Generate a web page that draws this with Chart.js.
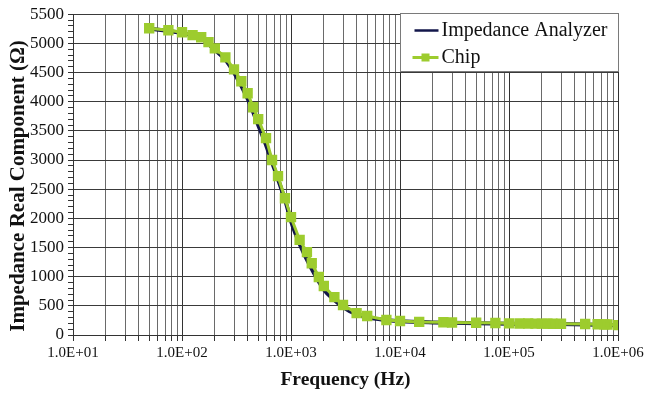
<!DOCTYPE html>
<html>
<head>
<meta charset="utf-8">
<script src="https://cdn.jsdelivr.net/npm/chart.js@4.4.1/dist/chart.umd.min.js"></script>
<style>
html,body{margin:0;padding:0;background:#fff;}
#wrap{width:647px;height:394px;position:relative;}
</style>
</head>
<body>
<div id="wrap"><canvas id="c" width="647" height="394"></canvas></div>
<script>
// Chip measurement (frequency Hz, real impedance Ohm)
const chipFreq = [50, 75, 100, 125, 150, 175, 200, 250, 300, 350, 400, 450, 500, 590, 670, 760, 880, 1000, 1200, 1400, 1550, 1800, 2000, 2500, 3000, 4000, 5000, 7500, 10000, 15000, 25000, 30000, 50000, 75000, 100000, 125000, 150000, 175000, 200000, 225000, 250000, 300000, 500000, 650000, 750000, 800000, 1000000];
const chipReal = [5260, 5225, 5190, 5140, 5105, 5020, 4915, 4760, 4555, 4350, 4145, 3905, 3700, 3375, 3000, 2725, 2345, 2020, 1630, 1420, 1230, 995, 840, 650, 515, 375, 325, 257, 240, 225, 218, 215, 210, 205, 200, 198, 197, 196, 195, 194, 193, 192, 188, 185, 183, 180, 170];
// Impedance analyzer reference (frequency Hz, real impedance Ohm)
const anaFreq = [50, 70, 100, 150, 200, 250, 300, 400, 500, 600, 700, 800, 900, 1000, 1200, 1500, 2000, 2500, 3000, 4000, 5000, 7000, 10000, 20000, 50000, 100000, 200000, 500000, 700000, 1000000];
const anaReal = [5250, 5220, 5175, 5085, 4890, 4720, 4500, 4050, 3600, 3220, 2860, 2550, 2260, 1950, 1560, 1180, 780, 600, 480, 352, 302, 260, 236, 216, 203, 195, 189, 182, 174, 166];
// Axis tick labels
const xTickLabels = {10: '1.0E+01', 100: '1.0E+02', 1000: '1.0E+03', 10000: '1.0E+04', 100000: '1.0E+05', 1000000: '1.0E+06'};
const yLabelStep = 500;
const yMinorStep = 100;
const yTitle = 'Impedance Real Component (Ω)';
const xTitle = 'Frequency (Hz)';

const xTickValues = [];
for (let d = 10; d < 1000000; d *= 10) {
  for (let m = 1; m < 10; m++) xTickValues.push(d * m);
}
xTickValues.push(1000000);

const isDecade = v => Math.abs(Math.log10(v) - Math.round(Math.log10(v))) < 1e-9;
const SERIF = '"Liberation Serif", "Times New Roman", serif';

const extras = {
  id: 'extras',
  afterDraw(chart) {
    const ctx = chart.ctx, ca = chart.chartArea;
    ctx.save();
    // y-axis title
    ctx.save();
    ctx.translate(19, 186);
    ctx.rotate(-Math.PI / 2);
    ctx.font = 'bold 21px ' + SERIF;
    ctx.fillStyle = '#111';
    ctx.textAlign = 'center';
    ctx.textBaseline = 'middle';
    ctx.fillText(yTitle, 0, 0);
    ctx.restore();
    // legend box
    const w = 218, h = 58;
    const x = Math.round(ca.right - w) + 0.5, y = Math.round(ca.top - 1) + 0.5;
    ctx.fillStyle = '#fff';
    ctx.fillRect(x, y, w, h);
    ctx.strokeStyle = '#7a7a7a';
    ctx.lineWidth = 1;
    ctx.strokeRect(x, y, w, h);
    const ds = chart.data.datasets;
    const ana = ds.find(d => d.label === 'Impedance Analyzer');
    const chip = ds.find(d => d.label === 'Chip');
    ctx.font = '20px ' + SERIF;
    ctx.textBaseline = 'middle';
    ctx.textAlign = 'left';
    ctx.fillStyle = '#111';
    let ly = y + 17;
    ctx.strokeStyle = ana.borderColor; ctx.lineWidth = 2.5;
    ctx.beginPath(); ctx.moveTo(x + 14, ly); ctx.lineTo(x + 38, ly); ctx.stroke();
    ctx.fillText(ana.label, x + 41, ly);
    ly = y + 44;
    ctx.strokeStyle = chip.borderColor; ctx.lineWidth = 3;
    ctx.beginPath(); ctx.moveTo(x + 12, ly); ctx.lineTo(x + 38, ly); ctx.stroke();
    ctx.fillStyle = chip.pointBackgroundColor;
    ctx.fillRect(x + 21, ly - 4, 8, 8);
    ctx.fillStyle = '#111';
    ctx.fillText(chip.label, x + 41, ly);
    ctx.restore();
  }
};

new Chart(document.getElementById('c'), {
  type: 'line',
  data: {
    datasets: [
      {
        label: 'Impedance Analyzer',
        data: anaFreq.map((f, i) => ({x: f, y: anaReal[i]})),
        borderColor: '#12164a',
        borderWidth: 4,
        pointRadius: 0,
        cubicInterpolationMode: 'monotone',
        order: 2
      },
      {
        label: 'Chip',
        data: chipFreq.map((f, i) => ({x: f, y: chipReal[i]})),
        borderColor: '#9dcc2e',
        backgroundColor: '#9dcc2e',
        pointBackgroundColor: '#9dcc2e',
        pointBorderColor: '#9dcc2e',
        pointStyle: 'rect',
        pointRadius: 5.2,
        borderWidth: 3,
        tension: 0,
        order: 1
      }
    ]
  },
  options: {
    responsive: false,
    animation: false,
    devicePixelRatio: 1,
    layout: {padding: {left: 8, right: 29, top: 14, bottom: 2}},
    plugins: {legend: {display: false}, tooltip: {enabled: false}},
    scales: {
      x: {
        type: 'logarithmic',
        min: 10, max: 1000000,
        afterBuildTicks: s => { s.ticks = xTickValues.map(v => ({value: v})); },
        afterFit: s => { s.height = 57; },
        ticks: {
          autoSkip: false, maxRotation: 0, padding: 3,
          color: '#111',
          font: {family: SERIF, size: 15},
          callback: v => xTickLabels[Math.round(v)] || ''
        },
        grid: {
          color: c => (c.tick && isDecade(c.tick.value)) ? '#333' : '#6a6a6a',
          tickColor: '#333',
          tickLength: 6,
          lineWidth: 1
        },
        border: {color: '#333', width: 1},
        title: {
          display: true, text: xTitle, color: '#111',
          font: {family: SERIF, size: 19.5, weight: 'bold'},
          padding: {top: 0, bottom: 0}
        }
      },
      y: {
        type: 'linear',
        min: 0, max: 5500,
        afterFit: s => { s.width = 65; },
        ticks: {
          stepSize: yMinorStep, autoSkip: false, padding: 4,
          color: '#111',
          font: {family: SERIF, size: 17},
          callback: v => (v % yLabelStep === 0 ? String(v) : '')
        },
        grid: {
          color: c => (c.tick && c.tick.value % yLabelStep === 0) ? '#3a3a3a' : 'rgba(0,0,0,0)',
          tickColor: '#333',
          tickLength: 5,
          lineWidth: 1
        },
        border: {color: '#333', width: 1},
        title: {display: false}
      }
    }
  },
  plugins: [extras]
});
</script>
</body>
</html>
